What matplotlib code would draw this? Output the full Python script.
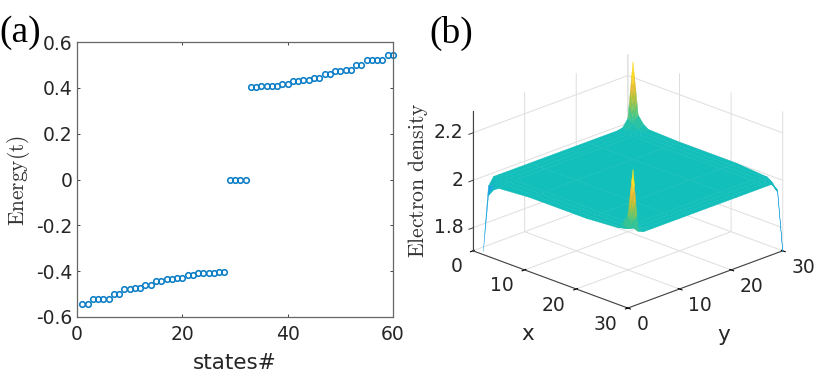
import numpy as np
import matplotlib
matplotlib.use('Agg')
import matplotlib.pyplot as plt
from matplotlib.colors import LinearSegmentedColormap
from mpl_toolkits.mplot3d import proj3d

# panel (a): energy levels
states = list(range(1, 61))
energy_low = [-0.545, -0.545, -0.523, -0.523, -0.523, -0.523, -0.5, -0.5, -0.479, -0.479,
              -0.473, -0.473, -0.46, -0.46, -0.443, -0.443, -0.435, -0.435, -0.428, -0.428,
              -0.416, -0.416, -0.41, -0.41, -0.41, -0.41, -0.403, -0.403]
energy_mid = [0, 0, 0, 0]
energy_high = [0.403, 0.403, 0.41, 0.41, 0.41, 0.41, 0.416, 0.416, 0.428, 0.428,
               0.435, 0.435, 0.443, 0.443, 0.46, 0.46, 0.473, 0.473, 0.479, 0.479,
               0.5, 0.5, 0.523, 0.523, 0.523, 0.523, 0.545, 0.545]
a_xticks = [0, 20, 40, 60]
a_yticks = [-0.6, -0.4, -0.2, 0, 0.2, 0.4, 0.6]
a_ylabels = ['-0.6', '-0.4', '-0.2', '0', '0.2', '0.4', '0.6']

# panel (b): density on a non-uniform set of lattice sites
sites = [1, 2, 3, 4, 10, 21, 27, 28, 29, 30]
density = [
    [1.700, 1.968, 2.000, 2.000, 2.000, 2.000, 2.000, 2.005, 2.036, 2.267],
    [1.943, 1.980, 2.000, 2.000, 2.000, 2.000, 2.000, 2.005, 2.020, 2.050],
    [1.975, 2.000, 2.000, 2.000, 2.000, 2.000, 2.000, 2.000, 2.005, 2.020],
    [1.990, 2.000, 2.000, 2.000, 2.000, 2.000, 2.000, 2.000, 2.000, 2.005],
    [2.000, 2.000, 2.000, 2.000, 2.000, 2.000, 2.000, 2.000, 2.000, 2.000],
    [2.000, 2.000, 2.000, 2.000, 2.000, 2.000, 2.000, 2.000, 2.000, 2.000],
    [2.010, 2.000, 2.000, 2.000, 2.000, 2.000, 2.000, 2.000, 2.000, 1.990],
    [2.036, 2.005, 2.000, 2.000, 2.000, 2.000, 2.000, 2.000, 2.000, 1.975],
    [2.080, 2.020, 2.005, 2.000, 2.000, 2.000, 2.000, 2.000, 1.980, 1.943],
    [2.280, 2.010, 2.000, 2.000, 2.000, 2.000, 2.000, 2.000, 1.968, 1.700],
]
# spike tips, read on a finer step so the colour runs along them
back_x = [1, 1.25, 1.5, 1.75, 2]
back_y = [29, 29.25, 29.5, 29.75, 30]
back_tip = [
    [2.036, 2.095, 2.150, 2.210, 2.267],
    [2.032, 2.078, 2.122, 2.168, 2.212],
    [2.028, 2.062, 2.095, 2.128, 2.160],
    [2.024, 2.045, 2.065, 2.085, 2.105],
    [2.020, 2.028, 2.035, 2.043, 2.050],
]
front_x = [29, 29.25, 29.5, 29.75, 30]
front_y = [1, 1.25, 1.5, 1.75, 2]
front_tip = [
    [2.080, 2.065, 2.050, 2.035, 2.020],
    [2.130, 2.105, 2.075, 2.050, 2.018],
    [2.180, 2.140, 2.100, 2.060, 2.015],
    [2.230, 2.180, 2.120, 2.070, 2.012],
    [2.280, 2.215, 2.145, 2.080, 2.010],
]
b_xticks = [0, 10, 20, 30]
b_xlabels = ['0', '10', '20', '30']
b_zticks = [1.8, 2.0, 2.2]
b_zlabels = ['1.8', '2', '2.2']
z_low, z_high = 1.703, 2.29

W, H = 830, 382
dark = '#262626'
plt.rcParams['font.family'] = ['DejaVu Sans']
plt.rcParams['mathtext.fontset'] = 'cm'

parula = LinearSegmentedColormap.from_list('parula', [
    (0.00, (0.2422, 0.1504, 0.6603)), (0.17, (0.2810, 0.3228, 0.9579)),
    (0.30, (0.1540, 0.5902, 0.9218)), (0.42, (0.0500, 0.6900, 0.8200)),
    (0.545, (0.0700, 0.7500, 0.7300)), (0.65, (0.3000, 0.7800, 0.5000)),
    (0.78, (0.7200, 0.7600, 0.2200)), (0.88, (0.9900, 0.7300, 0.2000)),
    (1.00, (0.9769, 0.9839, 0.0805))])


def facet_colors(z):
    z = np.array(z)
    mean_z = (z[:-1, :-1] + z[1:, :-1] + z[:-1, 1:] + z[1:, 1:]) / 4
    return parula((mean_z - 1.7) / (2.25 - 1.7))


fig = plt.figure(figsize=(W / 100, H / 100), dpi=100)

# panel (a)
ax = fig.add_axes([77 / W, 1 - 317 / H, 316 / W, 275 / H])
ax.plot(states, energy_low + energy_mid + energy_high, 'o', mfc='none', mec='#0b7dc6',
        mew=1.15, ms=4.0, clip_on=False)
ax.set_xlim(0, 60)
ax.set_ylim(-0.6, 0.6)
ax.set_xticks(a_xticks)
ax.set_yticks(a_yticks)
ax.set_yticklabels(a_ylabels)
ax.tick_params(direction='in', top=True, right=True, length=2.5, width=0.6, color=dark,
               labelsize=13.5, labelcolor=dark, pad=3)
ax.tick_params(axis='x', pad=6)
for s in ax.spines.values():
    s.set_color('#666666')
    s.set_linewidth(0.9)
ax.set_xlabel('states#', fontsize=15.5, color=dark, labelpad=6)
fig.text(19 / W, 1 - 180 / H, r'$\mathrm{Energy(t)}$', rotation=90, fontsize=15.4,
         color='#333333', ha='center', va='center')

# panel (b)
ax3 = fig.add_axes([433 / W, 1 - 366 / H, 380 / W, 360 / H], projection='3d')
ax3.set_proj_type('ortho')
ax3.view_init(elev=21.7, azim=-45)
ax3.set_box_aspect((218.5, 218.5, 149.6), zoom=0.928)
X, Y = np.meshgrid(sites, sites, indexing='ij')
cols = facet_colors(density)
# corner cells holding the spikes are drawn by the tip tables below
cols[0, -1] = (0, 0, 0, 0)
cols[-1, 0] = (0, 0, 0, 0)
ax3.plot_surface(X, Y, np.array(density), facecolors=cols, rstride=1, cstride=1, shade=False,
                 linewidth=0.3, antialiased=True)
for tx, ty, tz in [(back_x, back_y, back_tip), (front_x, front_y, front_tip)]:
    TX, TY = np.meshgrid(tx, ty, indexing='ij')
    ax3.plot_surface(TX, TY, np.array(tz), facecolors=facet_colors(tz), rstride=1, cstride=1,
                     shade=False, linewidth=0.3, antialiased=True)

# z axis stands on the left corner as in MATLAB, mplot3d puts it on the right
ax3.plot([0, 0], [0, 0], [z_low, z_high], color='#444444', lw=0.8)
for zt in b_zticks:
    ax3.plot([0, 0], [0, -0.8], [zt, zt], color='#444444', lw=0.7)

ax3.set_xlim(0, 30, view_margin=0)
ax3.set_ylim(0, 30, view_margin=0)
ax3.set_zlim(z_low, z_high, view_margin=0)
ax3.set_xticks(b_xticks)
ax3.set_yticks(b_xticks)
ax3.set_zticks(b_zticks)
ax3.tick_params(axis='z', color=(0, 0, 0, 0))
ax3.zaxis.line.set_visible(False)
for axis in (ax3.xaxis, ax3.yaxis, ax3.zaxis):
    axis.set_tick_params(label1On=False, label2On=False)
    axis.set_pane_color((1, 1, 1, 0))
    axis._axinfo['grid']['color'] = (0.87, 0.87, 0.87, 1)
    axis._axinfo['grid']['linewidth'] = 0.7
for axis in (ax3.xaxis, ax3.yaxis):
    axis.line.set_color('#444444')
    axis.line.set_linewidth(0.8)


# tick labels go through the axes' projection, once the limits are final
def label3d(x, y, z, s, ha):
    px, py, _ = proj3d.proj_transform(x, y, z, ax3.get_proj())
    ax3.text2D(px, py, s, transform=ax3.transData, fontsize=13.5, color=dark, ha=ha, va='center')


for zt, lab in zip(b_zticks, b_zlabels):
    label3d(-0.9, -0.9, zt, lab, 'right')
for t, lab in zip(b_xticks, b_xlabels):
    label3d(t + 3.15, -5.25, z_low, lab, 'right')
    label3d(35.2, t - 3.55, z_low, lab, 'left')

fig.text(528 / W, 1 - 334 / H, 'x', fontsize=15.5, color=dark, ha='center', va='center')
fig.text(724 / W, 1 - 335 / H, 'y', fontsize=15.5, color=dark, ha='center', va='center')
fig.text(418 / W, 1 - 180 / H, r'$\mathrm{Electron\ density}$', rotation=90, fontsize=15.6,
         color='#333333', ha='center', va='center')

# panel letters
fig.text(-1 / W, 1 - 33 / H, '(a)', family='Liberation Serif', fontsize=27, color='black',
         ha='left', va='center')
fig.text(429 / W, 1 - 33 / H, '(b)', family='Liberation Serif', fontsize=27, color='black',
         ha='left', va='center')

fig.savefig('out.png', dpi=100)
